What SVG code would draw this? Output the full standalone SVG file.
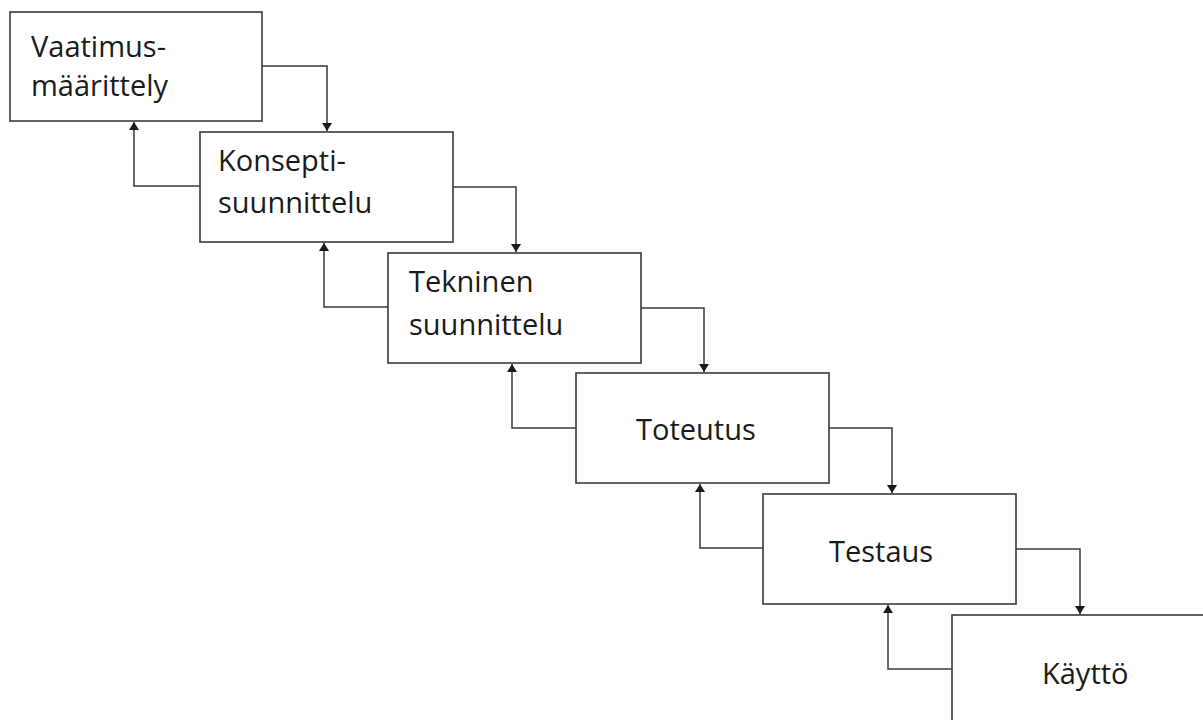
<svg xmlns="http://www.w3.org/2000/svg" width="1203" height="720" viewBox="0 0 1203 720">
<style>
.box{fill:#fff;stroke:#3a3a3a;stroke-width:1.6}
.lbl{font-family:"Open Sans","Noto Sans",sans-serif;font-size:29px;fill:#1a1a1a}
.con{fill:none;stroke:#3a3a3a;stroke-width:1.5}
</style>
<defs>
<marker id="ah" viewBox="0 0 8 10" refX="8" refY="5" markerWidth="8" markerHeight="10" markerUnits="userSpaceOnUse" orient="auto">
<path d="M0,0 L8,5 L0,10 Z" fill="#1a1a1a"/>
</marker>
</defs>
<rect width="1203" height="720" fill="#fff"/>
<g id="connectors">
<path class="con" d="M262,66 H327 V131" marker-end="url(#ah)"/>
<path class="con" d="M200,186 H134 V122" marker-end="url(#ah)"/>
<path class="con" d="M453,187 H516 V252" marker-end="url(#ah)"/>
<path class="con" d="M388,307 H324 V243" marker-end="url(#ah)"/>
<path class="con" d="M641,308 H704 V372" marker-end="url(#ah)"/>
<path class="con" d="M576,428 H512 V364" marker-end="url(#ah)"/>
<path class="con" d="M829,428 H892 V493" marker-end="url(#ah)"/>
<path class="con" d="M763,548 H700 V484" marker-end="url(#ah)"/>
<path class="con" d="M1016,549 H1080 V614" marker-end="url(#ah)"/>
<path class="con" d="M952,669 H888 V605" marker-end="url(#ah)"/>
</g>
<g id="n1">
<rect class="box" x="10" y="12" width="252" height="109"/>
<text class="lbl" x="31" y="57">Vaatimus-</text>
<text class="lbl" x="31" y="96">määrittely</text>
</g>
<g id="n2">
<rect class="box" x="200" y="132" width="253" height="110"/>
<text class="lbl" x="218" y="171">Konsepti-</text>
<text class="lbl" x="218" y="213">suunnittelu</text>
</g>
<g id="n3">
<rect class="box" x="388" y="253" width="253" height="110"/>
<text class="lbl" x="409" y="292">Tekninen</text>
<text class="lbl" x="409" y="335">suunnittelu</text>
</g>
<g id="n4">
<rect class="box" x="576" y="373" width="253" height="110"/>
<text class="lbl" x="636" y="440">Toteutus</text>
</g>
<g id="n5">
<rect class="box" x="763" y="494" width="253" height="110"/>
<text class="lbl" x="829" y="562">Testaus</text>
</g>
<g id="n6">
<rect class="box" x="952" y="615" width="260" height="120"/>
<text class="lbl" x="1042" y="684">Käyttö</text>
</g>
</svg>
